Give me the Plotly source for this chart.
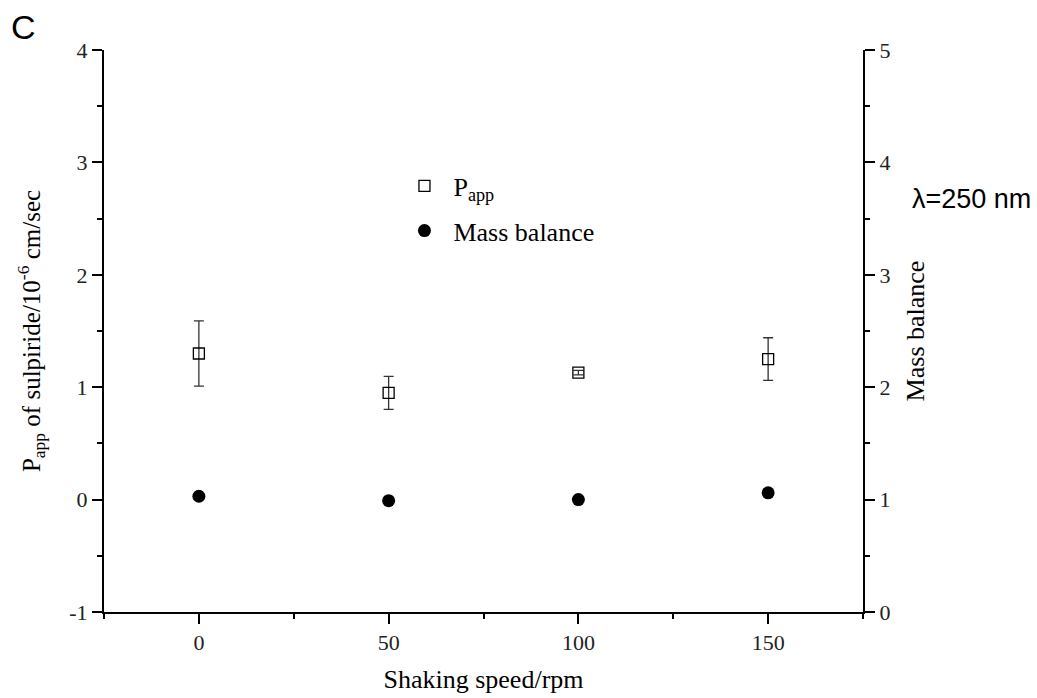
import plotly.graph_objects as go

speed = [0, 50, 100, 150]
papp = [1.30, 0.95, 1.13, 1.25]
papp_err = [0.29, 0.147, 0.02, 0.19]
mass_balance = [1.03, 0.99, 1.00, 1.06]

x_ticks = [0, 50, 100, 150]
y_ticks = [-1, 0, 1, 2, 3, 4]
y_tick_text = ["-1", "0", "1", "2", "3", "4"]
y2_ticks = [0, 1, 2, 3, 4, 5]

serif = "Liberation Serif"
fig = go.Figure()
fig.add_trace(go.Scatter(
    x=speed, y=papp, mode="markers", name="P<sub>app</sub>", legendgroup="a",
    marker=dict(symbol="square-open", size=11, color="black", line=dict(width=1.3)),
    error_y=dict(type="data", array=papp_err, visible=True, color="#333", thickness=1.3, width=5),
))
fig.add_trace(go.Scatter(
    x=speed, y=mass_balance, mode="markers", name="Mass balance", yaxis="y2", legendgroup="b",
    marker=dict(symbol="circle", size=13, color="black"),
))

axis_common = dict(showgrid=False, zeroline=False, showline=True, linecolor="black", linewidth=2,
                   ticks="outside", ticklen=10, tickwidth=2, tickcolor="black",
                   tickfont=dict(family=serif, size=22, color="#222"))
minor_common = dict(ticklen=5, tickwidth=2, tickcolor="black", ticks="outside")
fig.update_layout(
    width=1037, height=698,
    margin=dict(l=104, r=174, t=50, b=86, autoexpand=False),
    plot_bgcolor="white", paper_bgcolor="white",
    xaxis=dict(range=[-25, 175], tickvals=x_ticks,
               minor=dict(dtick=25, tick0=-25, **minor_common),
               title=dict(text="Shaking speed/rpm", font=dict(family=serif, size=26, color="black"), standoff=15),
               **axis_common),
    yaxis=dict(range=[-1, 4], tickvals=y_ticks, ticktext=y_tick_text,
               minor=dict(dtick=0.5, **minor_common),
               title=dict(text="P<sub>app</sub> of sulpiride/10<sup>-6</sup> cm/sec",
                          font=dict(family=serif, size=25, color="black"), standoff=22),
               **axis_common),
    yaxis2=dict(range=[0, 5], tickvals=y2_ticks, overlaying="y", side="right", anchor="x",
                minor=dict(dtick=0.5, **minor_common),
                title=dict(text="Mass balance", font=dict(family=serif, size=26, color="black"), standoff=16),
                **axis_common),
    legend=dict(x=0.384, y=0.80, xanchor="left", yanchor="top", itemwidth=48,
                tracegroupgap=8, traceorder="grouped",
                font=dict(family=serif, size=26, color="black"), bgcolor="rgba(0,0,0,0)"),
    annotations=[
        dict(text="C", x=0.0, y=1.0, xref="paper", yref="paper", xanchor="left", yanchor="middle",
             showarrow=False, font=dict(family="Liberation Sans", size=34, color="black"),
             xshift=-104 + 9, yshift=50 - 27),
        dict(text="λ=250 nm", x=1.0, y=0.0, xref="paper", yref="paper", xanchor="left", yanchor="middle",
             showarrow=False, font=dict(family="Liberation Sans", size=27, color="black"),
             xshift=910 - 863, yshift=612 - 199),
    ],
)
fig.write_html("out.html", config={"displayModeBar": False},
               post_script="document.body.style.margin='0';")
